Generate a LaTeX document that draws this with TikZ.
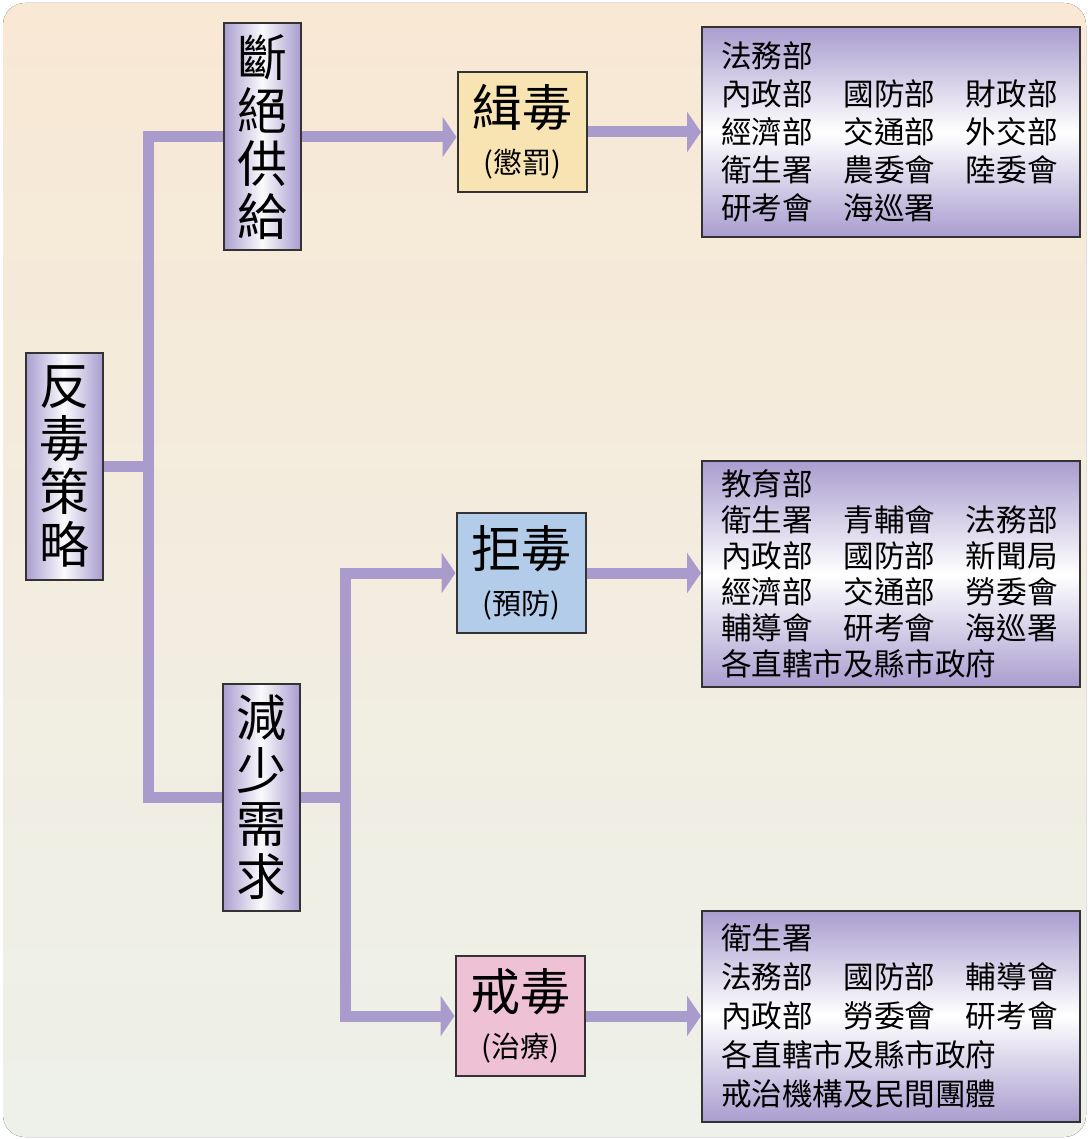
\documentclass[tikz,border=0pt]{standalone}
\usepackage{fontspec}
\newfontfamily\cjk{Noto Sans CJK TC}
\usetikzlibrary{arrows.meta,positioning}
\definecolor{bgtop}{HTML}{F8E8D4}
\definecolor{bgbot}{HTML}{EDF1EA}
\definecolor{lav}{HTML}{A99DCF}
\definecolor{linkc}{HTML}{A99CCD}
\definecolor{jiyellow}{HTML}{F8E3B3}
\definecolor{jublue}{HTML}{B3CCEA}
\definecolor{jiepink}{HTML}{EEC2D4}
\tikzstyle{vbox}=[draw=black!80,line width=2pt,left color=lav,right color=lav,middle color=white!95!lav,minimum width=77pt,minimum height=227pt,inner sep=0pt,align=center,font=\cjk\fontsize{50}{53}\selectfont]
\tikzstyle{actbox}=[draw=black!80,line width=2pt,minimum width=129pt,minimum height=120pt,inner sep=0pt,align=center,font=\cjk\fontsize{29}{47}\selectfont]
\tikzstyle{listbox}=[draw=black!80,line width=2pt,top color=lav,bottom color=lav,middle color=white,text width=340pt,inner xsep=19pt,inner ysep=0pt,align=left,font=\cjk\fontsize{30.6}{38}\selectfont]
\tikzstyle{link}=[draw=linkc,line width=11pt]
\tikzstyle{arrowlink}=[link,-{Triangle[width=40pt,length=14pt]}]
\newcommand{\bigtxt}[1]{{\fontsize{50}{50}\selectfont #1}}

\begin{document}
\begin{tikzpicture}[x=1pt,y=-1pt]
    \useasboundingbox (0,0) rectangle (1087,1139);
    \fill[white] (0,0) rectangle (1087,1139);
    \fill[top color=bgtop,bottom color=bgbot,rounded corners=22pt] (3,3) rectangle (1086,1137);
    \node[vbox] (fan)  at (64,466)  {反\\毒\\策\\略};
    \node[vbox] (duan) at (262,137) {斷\\絕\\供\\給};
    \node[vbox] (jian) at (261,797) {減\\少\\需\\求};
    \node[actbox,fill=jiyellow] (ji)  at (522,132)  {\bigtxt{緝毒}\\(懲罰)};
    \node[actbox,fill=jublue]   (ju)  at (521,573)  {\bigtxt{拒毒}\\(預防)};
    \node[actbox,fill=jiepink]  (jie) at (520,1016) {\bigtxt{戒毒}\\(治療)};
    \node[listbox,minimum height=210pt] (org1) at (891,132)
        {法務部\\內政部　國防部　財政部\\經濟部　交通部　外交部\\衛生署　農委會　陸委會\\研考會　海巡署};
    \node[listbox,minimum height=226pt,font=\cjk\fontsize{30.6}{36}\selectfont] (org2) at (891,574)
        {教育部\\衛生署　青輔會　法務部\\內政部　國防部　新聞局\\經濟部　交通部　勞委會\\輔導會　研考會　海巡署\\各直轄市及縣市政府};
    \node[listbox,minimum height=211pt,font=\cjk\fontsize{30.6}{39}\selectfont] (org3) at (891,1016)
        {衛生署\\法務部　國防部　輔導會\\內政部　勞委會　研考會\\各直轄市及縣市政府\\戒治機構及民間團體};
    \coordinate (spine) at (148,466);
    \coordinate (fork) at (345,797);
    % connectors
    \draw[link] (duan.west) -| (spine) |- (jian.west);
    \draw[link] (fan.east) -- (spine);
    \draw[link] (jian.east) -- (fork);
    \draw[arrowlink] (duan.east) -- (duan.east -| ji.west);
    \draw[arrowlink] (fork) |- (ju.west);
    \draw[arrowlink] (fork) |- (jie.west);
    \draw[arrowlink] (ji.east) -- (ji.east -| org1.west);
    \draw[arrowlink] (ju.east) -- (ju.east -| org2.west);
    \draw[arrowlink] (jie.east) -- (jie.east -| org3.west);
\end{tikzpicture}
\end{document}
